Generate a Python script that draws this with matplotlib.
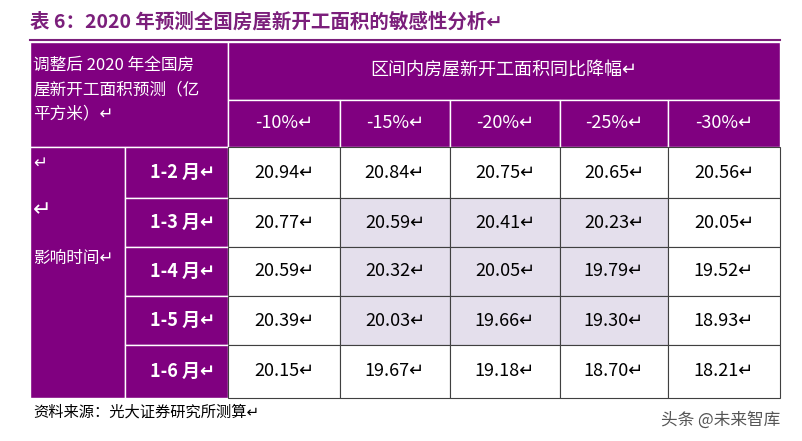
import matplotlib
matplotlib.use("Agg")
import matplotlib.pyplot as plt
from matplotlib.patches import Rectangle

FONT = ['Noto Sans CJK SC', 'DejaVu Sans']
plt.rcParams['font.family'] = FONT

title = "表 6：2020 年预测全国房屋新开工面积的敏感性分析↵"
corner = "调整后 2020 年全国房\n屋新开工面积预测（亿\n平方米）↵"
span_header = "区间内房屋新开工面积同比降幅↵"
declines = ["-10%", "-15%", "-20%", "-25%", "-30%"]
months = ["1-2 月", "1-3 月", "1-4 月", "1-5 月", "1-6 月"]
values = [
    [20.94, 20.84, 20.75, 20.65, 20.56],
    [20.77, 20.59, 20.41, 20.23, 20.05],
    [20.59, 20.32, 20.05, 19.79, 19.52],
    [20.39, 20.03, 19.66, 19.30, 18.93],
    [20.15, 19.67, 19.18, 18.70, 18.21],
]
source = "资料来源：光大证券研究所测算↵"
watermark = "头条 @未来智库"

PURPLE = "#800080"
SHADE = "#E4DFEC"

fig = plt.figure(figsize=(8.03, 4.41), dpi=100)
ax = fig.add_axes([0, 0, 1, 1])
ax.set_xlim(0, 803)
ax.set_ylim(441, 0)
ax.axis("off")

col_x = [30, 125, 228, 340, 450, 560, 668, 780]
row_y = [42, 100, 147, 198, 247, 296, 345, 398]

ax.text(30, 22, title, fontsize=14, fontweight="bold", color="#7B1F7B", va="center")
ax.plot([30, 780], [40, 40], color="#7B1F7B", lw=1.5)

# header block
ax.add_patch(Rectangle((col_x[0], row_y[0]), col_x[2] - col_x[0], row_y[2] - row_y[0], fc=PURPLE, ec="white", lw=1))
ax.add_patch(Rectangle((col_x[2], row_y[0]), col_x[7] - col_x[2], row_y[1] - row_y[0], fc=PURPLE, ec="white", lw=1))
for j in range(5):
    ax.add_patch(Rectangle((col_x[j + 2], row_y[1]), col_x[j + 3] - col_x[j + 2], row_y[2] - row_y[1], fc=PURPLE, ec="white", lw=1))
    ax.text((col_x[j + 2] + col_x[j + 3]) / 2, (row_y[1] + row_y[2]) / 2, declines[j] + "↵",
            color="white", fontsize=13, ha="center", va="center")
ax.text(33, 90, corner, color="white", fontsize=12, ha="left", va="center", linespacing=1.55)
ax.text((col_x[2] + col_x[7]) / 2, 70, span_header, color="white", fontsize=13, ha="center", va="center")

# left merged column
ax.add_patch(Rectangle((col_x[0], row_y[2]), col_x[1] - col_x[0], row_y[7] - row_y[2], fc=PURPLE, ec="white", lw=1))
ax.text(33, 163, "↵", color="white", fontsize=12, va="center", family=FONT)
ax.text(33, 210, "↵", color="white", fontsize=16, va="center", family=FONT)
ax.text(33, 258, "影响时间↵", color="white", fontsize=12, va="center")

for i, m in enumerate(months):
    y0, y1 = row_y[i + 2], row_y[i + 3]
    ax.add_patch(Rectangle((col_x[1], y0), col_x[2] - col_x[1], y1 - y0, fc=PURPLE, ec="white", lw=1))
    ax.text(150, (y0 + y1) / 2, m + "↵", color="white", fontsize=13, fontweight="bold", va="center")
    for j, v in enumerate(values[i]):
        shaded = 1 <= i <= 3 and 1 <= j <= 3
        ax.add_patch(Rectangle((col_x[j + 2], y0), col_x[j + 3] - col_x[j + 2], y1 - y0,
                               fc=SHADE if shaded else "white", ec="#404040", lw=0.8))
        ax.text((col_x[j + 2] + col_x[j + 3]) / 2, (y0 + y1) / 2, f"{v:.2f}↵",
                color="black", fontsize=13, ha="center", va="center")

ax.text(33, 412, source, fontsize=11, va="center", color="black")
ax.text(780, 420, watermark, fontsize=12, va="center", ha="right", color="#555555")

fig.savefig("out.png", dpi=100)
